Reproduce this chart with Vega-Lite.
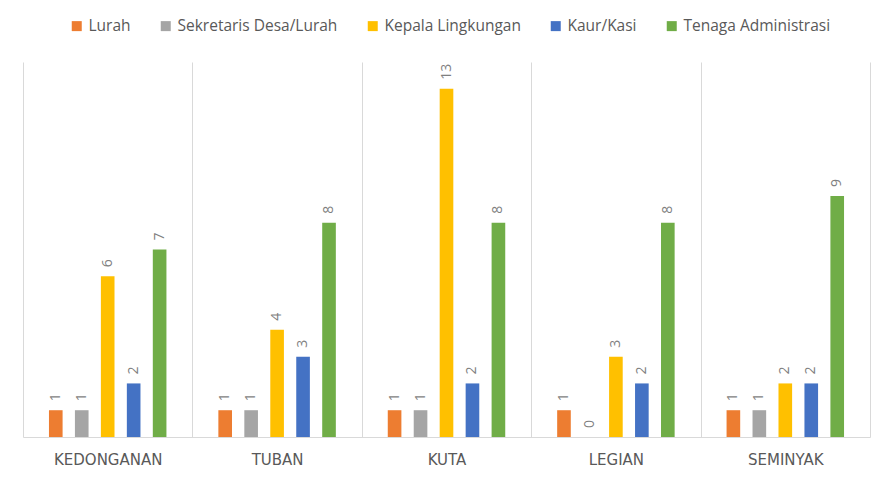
{
  "$schema": "https://vega.github.io/schema/vega-lite/v6.json",
  "width": 847,
  "height": 375,
  "autosize": {"type": "none"},
  "padding": {"left": 23, "top": 62, "right": 19, "bottom": 43},
  "background": "white",
  "config": {
    "view": {"stroke": null},
    "font": "Open Sans"
  },
  "data": {
    "values": [
      {"lokasi": "KEDONGANAN", "jabatan": "Lurah", "jumlah": 1},
      {"lokasi": "KEDONGANAN", "jabatan": "Sekretaris Desa/Lurah", "jumlah": 1},
      {"lokasi": "KEDONGANAN", "jabatan": "Kepala Lingkungan", "jumlah": 6},
      {"lokasi": "KEDONGANAN", "jabatan": "Kaur/Kasi", "jumlah": 2},
      {"lokasi": "KEDONGANAN", "jabatan": "Tenaga Administrasi", "jumlah": 7},
      {"lokasi": "TUBAN", "jabatan": "Lurah", "jumlah": 1},
      {"lokasi": "TUBAN", "jabatan": "Sekretaris Desa/Lurah", "jumlah": 1},
      {"lokasi": "TUBAN", "jabatan": "Kepala Lingkungan", "jumlah": 4},
      {"lokasi": "TUBAN", "jabatan": "Kaur/Kasi", "jumlah": 3},
      {"lokasi": "TUBAN", "jabatan": "Tenaga Administrasi", "jumlah": 8},
      {"lokasi": "KUTA", "jabatan": "Lurah", "jumlah": 1},
      {"lokasi": "KUTA", "jabatan": "Sekretaris Desa/Lurah", "jumlah": 1},
      {"lokasi": "KUTA", "jabatan": "Kepala Lingkungan", "jumlah": 13},
      {"lokasi": "KUTA", "jabatan": "Kaur/Kasi", "jumlah": 2},
      {"lokasi": "KUTA", "jabatan": "Tenaga Administrasi", "jumlah": 8},
      {"lokasi": "LEGIAN", "jabatan": "Lurah", "jumlah": 1},
      {"lokasi": "LEGIAN", "jabatan": "Sekretaris Desa/Lurah", "jumlah": 0},
      {"lokasi": "LEGIAN", "jabatan": "Kepala Lingkungan", "jumlah": 3},
      {"lokasi": "LEGIAN", "jabatan": "Kaur/Kasi", "jumlah": 2},
      {"lokasi": "LEGIAN", "jabatan": "Tenaga Administrasi", "jumlah": 8},
      {"lokasi": "SEMINYAK", "jabatan": "Lurah", "jumlah": 1},
      {"lokasi": "SEMINYAK", "jabatan": "Sekretaris Desa/Lurah", "jumlah": 1},
      {"lokasi": "SEMINYAK", "jabatan": "Kepala Lingkungan", "jumlah": 2},
      {"lokasi": "SEMINYAK", "jabatan": "Kaur/Kasi", "jumlah": 2},
      {"lokasi": "SEMINYAK", "jabatan": "Tenaga Administrasi", "jumlah": 9}
    ]
  },
  "encoding": {
    "x": {
      "field": "lokasi",
      "type": "nominal",
      "sort": ["KEDONGANAN", "TUBAN", "KUTA", "LEGIAN", "SEMINYAK"],
      "scale": {"paddingInner": 0, "paddingOuter": 0},
      "axis": {
        "title": null,
        "labelAngle": 0,
        "labelFontSize": 15,
        "labelFont": "DejaVu Sans",
        "labelColor": "#595959",
        "labelPadding": 15,
        "ticks": false,
        "tickBand": "extent",
        "grid": true,
        "gridColor": "#d9d9d9",
        "gridWidth": 1,
        "domainColor": "#d9d9d9",
        "domainWidth": 1
      }
    },
    "xOffset": {
      "field": "jabatan",
      "type": "nominal",
      "sort": ["Lurah", "Sekretaris Desa/Lurah", "Kepala Lingkungan", "Kaur/Kasi", "Tenaga Administrasi"],
      "scale": {"paddingInner": 0.475, "paddingOuter": 1.16}
    },
    "y": {
      "field": "jumlah",
      "type": "quantitative",
      "scale": {"domain": [0, 14], "nice": false},
      "axis": null
    }
  },
  "layer": [
    {
      "mark": {"type": "bar"},
      "encoding": {
        "color": {
          "field": "jabatan",
          "type": "nominal",
          "sort": ["Lurah", "Sekretaris Desa/Lurah", "Kepala Lingkungan", "Kaur/Kasi", "Tenaga Administrasi"],
          "scale": {
            "domain": ["Lurah", "Sekretaris Desa/Lurah", "Kepala Lingkungan", "Kaur/Kasi", "Tenaga Administrasi"],
            "range": ["#ED7D31", "#A5A5A5", "#FFC000", "#4472C4", "#70AD47"]
          },
          "legend": {
            "title": null,
            "orient": "none",
            "direction": "horizontal",
            "legendX": 46,
            "legendY": -44,
            "padding": 0,
            "symbolType": "square",
            "symbolSize": 100,
            "symbolStrokeWidth": 0,
            "symbolOpacity": 1,
            "labelFontSize": 15.5,
            "labelColor": "#595959",
            "labelOffset": 4,
            "columnPadding": 27
          }
        }
      }
    },
    {
      "mark": {
        "type": "text",
        "angle": 270,
        "align": "left",
        "baseline": "middle",
        "dx": 9,
        "fontSize": 14,
        "color": "#7f7f7f"
      },
      "encoding": {
        "text": {"field": "jumlah", "type": "quantitative"}
      }
    }
  ]
}
